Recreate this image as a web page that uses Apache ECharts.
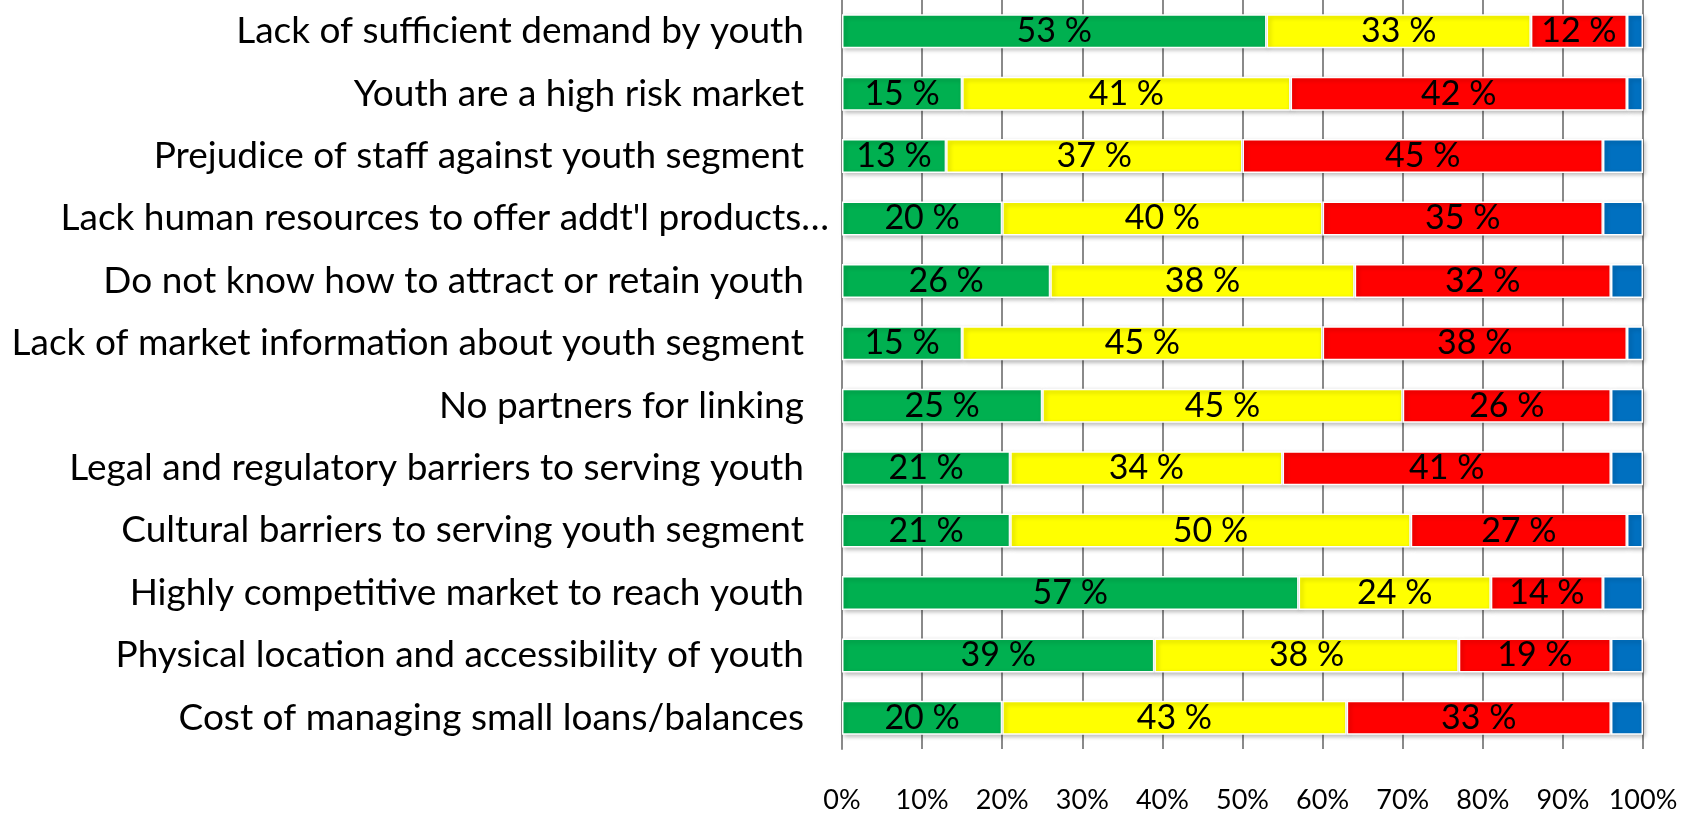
<!DOCTYPE html>
<html>
<head>
<meta charset="utf-8">
<script src="https://cdn.jsdelivr.net/npm/echarts@6/dist/echarts.min.js"></script>
<style>
  html, body { margin: 0; padding: 0; background: #fff; }
  #chart { width: 1692px; height: 814px; }
</style>
</head>
<body>
<div id="chart"></div>
<script>
// Barriers to serving youth, share of responses per category (percent)
const categories = [
  'Lack of sufficient demand by youth',
  'Youth are a high risk market',
  'Prejudice of staff against youth segment',
  "Lack human resources to offer addt'l products…",
  'Do not know how to attract or retain youth',
  'Lack of market information about youth segment',
  'No partners for linking',
  'Legal and regulatory barriers to serving youth',
  'Cultural barriers to serving youth segment',
  'Highly competitive market to reach youth',
  'Physical location and accessibility of youth',
  'Cost of managing small loans/balances'
];
const greenValues  = [53, 15, 13, 20, 26, 15, 25, 21, 21, 57, 39, 20];
const yellowValues = [33, 41, 37, 40, 38, 45, 45, 34, 50, 24, 38, 43];
const redValues    = [12, 42, 45, 35, 32, 38, 26, 41, 27, 14, 19, 33];
const blueValues   = [ 2,  2,  5,  5,  4,  2,  4,  4,  2,  5,  4,  4];
const tickLabels = ['0%', '10%', '20%', '30%', '40%', '50%', '60%', '70%', '80%', '90%', '100%'];

const FONT = 'Lato';
const CAT_SIZE = 37;
const barStyle = {
  borderColor: '#ffffff',
  borderWidth: 1.5,
  shadowColor: 'rgba(0,0,0,0.25)',
  shadowBlur: 4,
  shadowOffsetX: 2,
  shadowOffsetY: 2
};

function makeSeries(name, values, color, showLabel) {
  return {
    name: name,
    type: 'bar',
    stack: 'total',
    barWidth: 34,
    data: values,
    itemStyle: Object.assign({ color: color }, barStyle),
    label: {
      show: showLabel,
      position: 'inside',
      formatter: '{c} %',
      color: '#000',
      fontFamily: FONT,
      fontSize: 34
    },
    emphasis: { disabled: true }
  };
}

const chart = echarts.init(document.getElementById('chart'));
chart.setOption({
  animation: false,
  backgroundColor: '#ffffff',
  grid: { left: 842, right: 49, top: -5.5, bottom: 65, containLabel: false },
  xAxis: {
    type: 'value',
    min: 0,
    max: 100,
    interval: 10,
    axisLine: { show: false },
    axisTick: { show: false },
    splitLine: { show: true, lineStyle: { color: '#8a8a8a', width: 2 } },
    axisLabel: {
      margin: 38,
      fontFamily: FONT,
      fontSize: 27,
      color: '#000',
      formatter: function (v) { return tickLabels[Math.round(v / 10)]; }
    }
  },
  yAxis: {
    type: 'category',
    inverse: true,
    data: categories,
    axisLine: { show: true, lineStyle: { color: '#8a8a8a', width: 2 } },
    axisTick: { show: false },
    axisLabel: {
      margin: 13,
      color: '#000',
      fontFamily: FONT,
      fontSize: CAT_SIZE,
      formatter: function (v) {
        return v.endsWith('…') ? '{o|' + v + '}' : '{n|' + v + '}';
      },
      rich: {
        n: { fontFamily: FONT, fontSize: CAT_SIZE, color: '#000', padding: [0, 25, 0, 0] },
        o: { fontFamily: FONT, fontSize: CAT_SIZE, color: '#000' }
      }
    }
  },
  series: [
    makeSeries('green', greenValues, '#00B050', true),
    makeSeries('yellow', yellowValues, '#FFFF00', true),
    makeSeries('red', redValues, '#FF0000', true),
    makeSeries('blue', blueValues, '#0070C0', false)
  ]
});
</script>
</body>
</html>
